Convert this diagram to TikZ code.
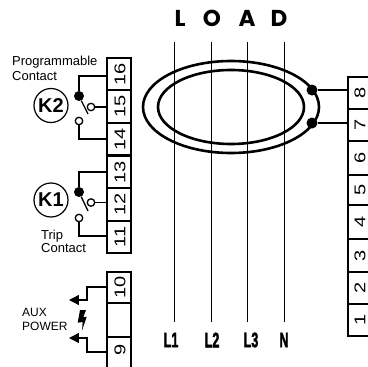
\documentclass[tikz,border=0pt]{standalone}
\usepackage{fontspec}
\setmainfont{Poppins}
\newfontfamily\condfont{Liberation Sans}
\newfontfamily\heavyfont[UprightFont=* Bold,FakeBold=2.5]{Liberation Sans}
\usetikzlibrary{arrows.meta}
\tikzset{
  x=1pt,y=-1pt,
  term/.style={draw=black,line width=1.3pt,minimum width=24pt,inner sep=0pt,outer sep=0pt},
  numtext/.style={rotate=90,yscale=0.78,inner sep=0pt,font=\condfont\fontsize{20}{20}\selectfont},
  sep/.style={line width=2.4pt},
  wire/.style={line width=1.3pt},
  ring/.style={draw=black,line width=2.6pt},
  phase/.style={line width=1pt},
  relay/.style={circle,draw=black,line width=1.2pt,minimum size=34pt,inner sep=0pt,font=\condfont\bfseries\fontsize{20}{20}\selectfont},
  opencontact/.style={circle,draw=black,fill=white,line width=1.3pt,minimum size=7.5pt,inner sep=0pt},
  closedcontact/.style={circle,fill=black,minimum size=10pt,inner sep=0pt},
  joint/.style={circle,fill=black,minimum size=11pt,inner sep=0pt},
  caption/.style={font=\condfont\fontsize{13}{13}\selectfont,anchor=west,inner sep=0pt},
  loadlabel/.style={font=\fontsize{23}{23}\selectfont\bfseries,inner sep=0pt},
  linelabel/.style={font=\heavyfont\fontsize{21}{21}\selectfont,xscale=0.6,inner sep=0pt},
  auxtip/.style={-{Triangle[length=10pt,width=10pt]}},
}
\begin{document}
\begin{tikzpicture}
\clip (0,0) rectangle (368,367);
% left blocks
\foreach \n/\t/\b in {16/58/90,15/90/123,14/123/155.5,13/155.5/188,12/188/221,11/221/253,10/272/303,0/303/337}{
  \node[term,minimum height={(\b-\t)*1pt}] (t\n) at (119,{(\t+\b)/2}) {};
}
\foreach \n/\yy in {16/74,15/106.5,14/139,13/172,12/204.5,11/237,10/287.5}{
  \node[numtext] (n\n) at (120,\yy) {\n};
}
\node[numtext] (n9) at (120,350) {9};
\draw[line width=1.3pt] (107,337) -- (107,372) (131,337) -- (131,372);
\foreach \a in {t16,t15,t14,t13,t12,t10,t0}{
  \draw[sep] (\a.south west) -- (\a.south east);
}
% right block
\foreach \n/\t/\b in {8/77/109,7/109/141,6/141/175,5/175/205,4/205/239,3/239/272,2/272/304,1/304/336}{
  \node[term,minimum width=26pt,minimum height={(\b-\t)*1pt}] (r\n) at (361,{(\t+\b)/2}) {};
  \node[numtext] (m\n) at (360,{(\t+\b)/2}) {\n};
}
\foreach \a in {r8,r7,r6,r5,r4,r3,r2}{
  \draw[sep] (\a.south west) -- (\a.south east);
}
% ring
\draw[ring] (231,107) ellipse (88 and 46);
\draw[ring] (231,107) ellipse (73 and 37);
\node[joint] (j8) at (312,90) {};
\node[joint] (j7) at (312,123) {};
\coordinate (w8) at (348,90);
\coordinate (w7) at (348,123);
\draw[wire] (j8) -- (w8);
\draw[wire] (j7) -- (w7);
% phases
\foreach \n/\xx/\lab/\lx in {a/175/L1/171,b/212/L2/212,c/248/L3/251,d/285/N/284}{
  \coordinate (top\n) at (\xx,42);
  \coordinate (bot\n) at (\xx,322);
  \draw[phase] (top\n) -- (bot\n);
  \node[linelabel] (lab\n) at (\lx,340) {\lab};
}
\node[loadlabel] (la) at (180,18.5) {L};
\node[loadlabel] (lb) at (212,18.5) {O};
\node[loadlabel] (lc) at (247,18.5) {A};
\node[loadlabel] (ld) at (279,18.5) {D};
% relay K2
\node[relay] (k2) at (51,105.5) {K2};
\node[closedcontact] (c2) at (79,96) {};
\node[opencontact] (o2) at (91,107) {};
\node[opencontact] (l2) at (79,121) {};
\coordinate (e2) at (88,114);
\draw[wire] (c2) |- (107,76);
\draw[wire] (l2) |- (107,139);
\draw[wire] (o2) -- (107,107);
\draw[wire] (c2) -- (e2);
% relay K1
\node[relay] (k1) at (51,200) {K1};
\node[closedcontact] (c1) at (79,192) {};
\node[opencontact] (o1) at (91,202.5) {};
\node[opencontact] (l1) at (79,218) {};
\coordinate (e1) at (88,211);
\draw[wire] (c1) |- (107,172);
\draw[wire] (l1) |- (107,236);
\draw[wire] (o1) -- (107,202.5);
\draw[wire] (c1) -- (e1);
% captions
\node[caption] at (12,62) {Programmable};
\node[caption] at (12,76) {Contact};
\node[caption] at (41,236) {Trip};
\node[caption] at (41,248.5) {Contact};
\node[caption,font=\condfont\fontsize{12}{12}\selectfont] at (22,312) {AUX};
\node[caption,font=\condfont\fontsize{12}{12}\selectfont] at (22,326) {POWER};
% aux power
\coordinate (a1) at (69,300);
\coordinate (a2) at (69,338);
\draw[wire,auxtip] (107,287) -| (87,300) -- (a1);
\draw[wire,auxtip] (107,352) -| (87,338) -- (a2);
\fill (80,310) -- (86,310) -- (83.3,317.3) -- (86.7,316.7) -- (82,330.7) -- (82.7,322) -- (77.7,322.7) -- cycle;
\end{tikzpicture}
\end{document}
